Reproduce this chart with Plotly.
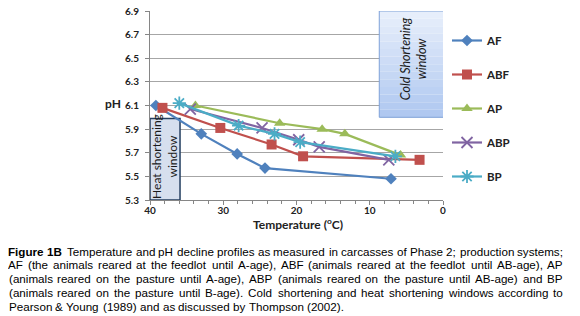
import plotly.graph_objects as go

# ---- data ----
series_names = ["AF", "ABF", "AP", "ABP", "BP"]
AF_temp = [39.2, 33.0, 28.1, 24.3, 7.1]
AF_ph = [6.10, 5.86, 5.69, 5.57, 5.48]
ABF_temp = [38.3, 30.4, 23.4, 19.1, 3.2]
ABF_ph = [6.08, 5.91, 5.77, 5.67, 5.64]
AP_temp = [33.8, 22.3, 16.5, 13.4, 5.8]
AP_ph = [6.10, 5.95, 5.90, 5.86, 5.68]
ABP_temp = [34.5, 24.7, 19.7, 16.9, 7.4]
ABP_ph = [6.07, 5.91, 5.81, 5.75, 5.64]
BP_temp = [36.0, 27.9, 23.0, 19.5, 6.5]
BP_ph = [6.12, 5.93, 5.86, 5.79, 5.67]

heat_window_temp = [40.0, 35.9]
heat_window_ph = [5.3, 5.99]
cold_window_temp = [8.7, -0.5]
cold_window_ph = [6.0, 6.9]

y_ticks = [5.3, 5.5, 5.7, 5.9, 6.1, 6.3, 6.5, 6.7, 6.9]
x_ticks = [40, 30, 20, 10, 0]

caption_lines = [
    "Figure 1B Temperature and pH decline profiles as measured in carcasses of Phase 2; production systems;",
    "AF (the animals reared at the feedlot until A-age), ABF (animals reared at the feedlot until AB-age), AP",
    "(animals reared on the pasture until A-age), ABP (animals reared on the pasture until AB-age) and BP",
    "(animals reared on the pasture until B-age). Cold shortening and heat shortening windows according to",
    "Pearson & Young (1989) and as discussed by Thompson (2002).",
]

# ---- styling ----
colors = {"AF": "#4F81BD", "ABF": "#C0504D", "AP": "#9BBB59", "ABP": "#8064A2", "BP": "#4BACC6"}
symbols = {"AF": "diamond", "ABF": "square", "AP": "triangle-up", "ABP": "x-thin-open", "BP": "asterisk-open"}
msize = {"AF": 9, "ABF": 10, "AP": 10, "ABP": 11, "BP": 11}
data = {
    "AF": (AF_temp, AF_ph), "ABF": (ABF_temp, ABF_ph), "AP": (AP_temp, AP_ph),
    "ABP": (ABP_temp, ABP_ph), "BP": (BP_temp, BP_ph),
}
chart_font = "Lato, 'Open Sans', sans-serif"

# page has an 8px body margin: work in figure coordinates = page - 8
OFF = 8
page_w, page_h = 580 - OFF, 316 - OFF
plot_l, plot_r, plot_t, plot_b = 150 - OFF, 443 - OFF, 11 - OFF, 200 - OFF


def px_to_paper_x(px):
    return (px - OFF - plot_l) / (plot_r - plot_l)


def px_to_paper_y(py):
    return (plot_b - (py - OFF)) / (plot_b - plot_t)


fig = go.Figure()
for name in series_names:
    t, p = data[name]
    c = colors[name]
    open_sym = symbols[name].endswith("open")
    fig.add_trace(go.Scatter(
        x=t, y=p, name=name, mode="lines+markers", legendgroup=name,
        line=dict(color=c, width=2.2),
        marker=dict(symbol=symbols[name], size=msize[name], color=c,
                    line=dict(color=c, width=1.8 if open_sym else 0)),
    ))

# heat shortening window
fig.add_shape(type="rect", xref="x", yref="y",
              x0=heat_window_temp[0], x1=heat_window_temp[1],
              y0=heat_window_ph[0], y1=heat_window_ph[1],
              fillcolor="#D6DFEE", line=dict(color="#243F60", width=1.5), layer="between")
fig.add_annotation(x=sum(heat_window_temp) / 2, y=5.665, xref="x", yref="y",
                   xanchor="center", yanchor="middle",
                   text="Heat shortening<br>window", textangle=-90, showarrow=False,
                   font=dict(family="Lato, sans-serif", size=12, color="#1a1a1a"))

# cold shortening window (vertical gradient)
n_strips = 14
top_rgb = (230, 238, 251)
bot_rgb = (176, 200, 240)
y0c, y1c = cold_window_ph
for i in range(n_strips):
    f = i / (n_strips - 1)
    r = round(top_rgb[0] + (bot_rgb[0] - top_rgb[0]) * f)
    g = round(top_rgb[1] + (bot_rgb[1] - top_rgb[1]) * f)
    b = round(top_rgb[2] + (bot_rgb[2] - top_rgb[2]) * f)
    ya = y1c - (y1c - y0c) * i / n_strips
    yb = y1c - (y1c - y0c) * (i + 1) / n_strips
    fig.add_shape(type="rect", xref="x", yref="y",
                  x0=cold_window_temp[0], x1=cold_window_temp[1], y0=yb, y1=ya,
                  fillcolor=f"rgb({r},{g},{b})", line=dict(width=0), layer="above")
fig.add_shape(type="rect", xref="x", yref="y",
              x0=cold_window_temp[0], x1=cold_window_temp[1], y0=y0c, y1=y1c,
              fillcolor="rgba(0,0,0,0)", line=dict(color="#7FA2D8", width=1), layer="above")
fig.add_annotation(x=sum(cold_window_temp) / 2, y=6.5, xref="x", yref="y",
                   xanchor="center", yanchor="middle",
                   text="<i>Cold Shortening<br>window</i>", textangle=-90, showarrow=False,
                   font=dict(family="Lato, sans-serif", size=12.5, color="#1a1a1a"))

# axis titles
fig.add_annotation(x=px_to_paper_x(113), y=px_to_paper_y(103), xref="paper", yref="paper",
                   xanchor="center", yanchor="middle",
                   text="<b>pH</b>", showarrow=False,
                   font=dict(family=chart_font, size=12, color="#222"))
fig.add_annotation(x=px_to_paper_x(298), y=px_to_paper_y(223.5), xref="paper", yref="paper",
                   xanchor="center", yanchor="middle",
                   text="<b>Temperature (<sup>o</sup>C)</b>",
                   showarrow=False, font=dict(family=chart_font, size=12, color="#222"))

# ---- caption with justified lines (Arial metrics) ----
W_REG = {' ': 278, '(': 333, ')': 333, ',': 278, '-': 333, '.': 278, ';': 278, '&': 667,
         'A': 667, 'B': 667, 'C': 722, 'D': 722, 'E': 667, 'F': 611, 'G': 778, 'H': 722,
         'I': 278, 'J': 500, 'K': 667, 'L': 556, 'M': 833, 'N': 722, 'O': 778, 'P': 667,
         'Q': 778, 'R': 722, 'S': 667, 'T': 611, 'U': 722, 'V': 667, 'W': 944, 'X': 667,
         'Y': 667, 'Z': 611, 'a': 556, 'b': 556, 'c': 500, 'd': 556, 'e': 556, 'f': 278,
         'g': 556, 'h': 556, 'i': 222, 'j': 222, 'k': 500, 'l': 222, 'm': 833, 'n': 556,
         'o': 556, 'p': 556, 'q': 556, 'r': 333, 's': 500, 't': 278, 'u': 556, 'v': 500,
         'w': 722, 'x': 500, 'y': 500, 'z': 500}
W_BOLD = dict(W_REG)
W_BOLD.update({'B': 722, 'i': 278, 'g': 611, 'u': 611, 'r': 389})


def text_w(s, size, bold=False):
    tbl = W_BOLD if bold else W_REG
    return sum(tbl.get(ch, 556) for ch in s) / 1000.0 * size


cap_size = 11.65
left_px, right_px = 8.5, 563.0
line_y_px = [251, 264.8, 278.6, 292.4, 306.2]

for li, line in enumerate(caption_lines):
    words = line.split(" ")
    bold_flags = [li == 0 and wi < 2 for wi in range(len(words))]
    widths = [text_w(w, cap_size, b) for w, b in zip(words, bold_flags)]
    if li < len(caption_lines) - 1:
        gap = (right_px - left_px - sum(widths)) / (len(words) - 1)
    else:
        gap = text_w(" ", cap_size)
    xcur = left_px
    for w, b, wd in zip(words, bold_flags, widths):
        fig.add_annotation(x=px_to_paper_x(xcur + wd / 2), y=px_to_paper_y(line_y_px[li]),
                           xref="paper", yref="paper", xanchor="center", yanchor="middle",
                           text=f"<b>{w}</b>" if b else w, showarrow=False,
                           font=dict(family="Arial, 'Liberation Sans', sans-serif",
                                     size=cap_size, color="#000"))
        xcur += wd + gap

fig.update_layout(
    template="none",
    width=page_w, height=page_h,
    margin=dict(l=plot_l, r=page_w - plot_r, t=plot_t, b=page_h - plot_b, pad=0, autoexpand=False),
    paper_bgcolor="white", plot_bgcolor="white",
    font=dict(family=chart_font, color="#222"),
    legend=dict(x=px_to_paper_x(447), y=px_to_paper_y(26), xanchor="left", yanchor="top",
                tracegroupgap=15,
                font=dict(family=chart_font, size=11.5, color="#222", weight="bold"),
                itemwidth=30, bgcolor="rgba(0,0,0,0)"),
    xaxis=dict(range=[40, 0], tickvals=x_ticks, ticks="outside", ticklen=4, tickcolor="#868686",
               showline=True, linecolor="#868686", linewidth=1, showgrid=False, zeroline=False,
               automargin=False, ticklabelstandoff=-3,
               tickfont=dict(family=chart_font, size=10, color="#222", weight="bold"),
               minor=dict(dtick=2, ticks="outside", ticklen=3, tickcolor="#868686", showgrid=False)),
    yaxis=dict(range=[5.3, 6.9], tickvals=y_ticks, tickformat=".1f", ticks="outside", ticklen=4,
               tickcolor="#868686", showline=True, linecolor="#868686", linewidth=1,
               showgrid=True, gridcolor="#A6A6A6", gridwidth=1, zeroline=False,
               automargin=False, ticklabelstandoff=4, ticklabeloverflow="allow",
               tickfont=dict(family=chart_font, size=10, color="#222", weight="bold")),
)

fig.write_html("out.html")
